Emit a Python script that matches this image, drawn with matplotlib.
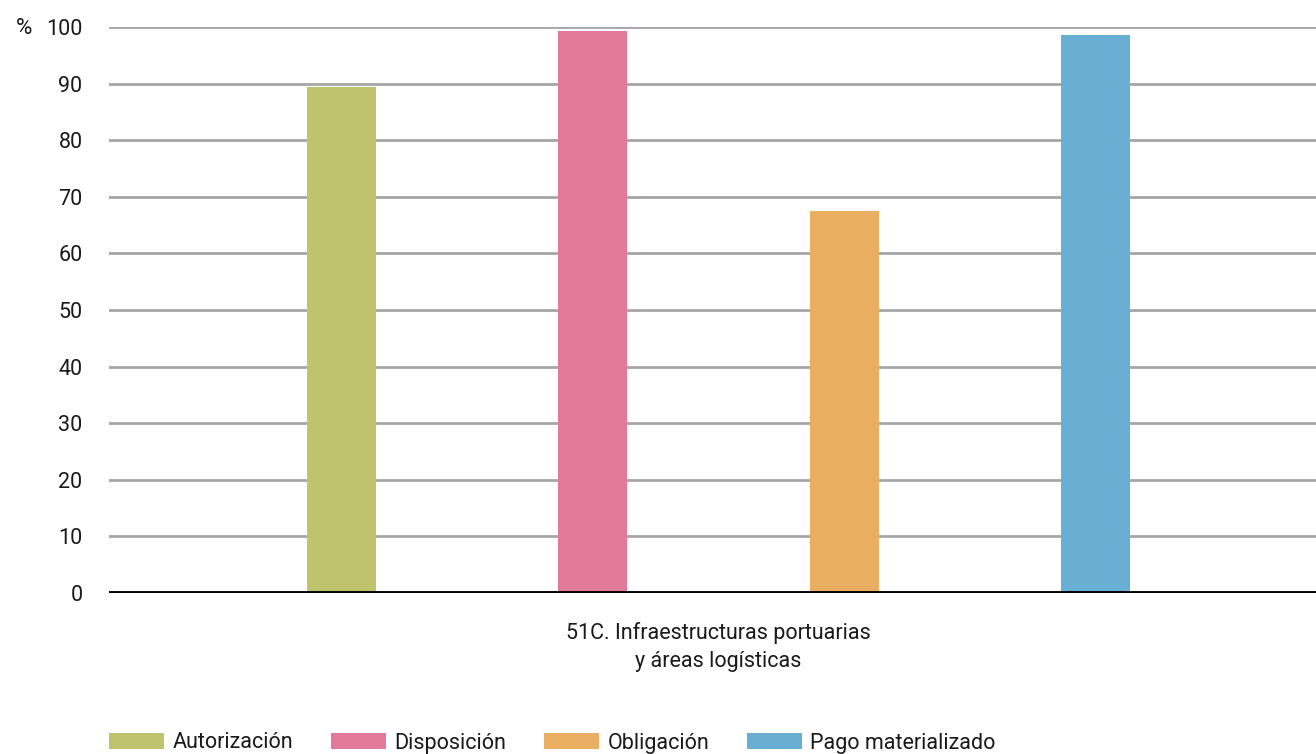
import matplotlib.pyplot as plt
import numpy as np

plt.rcParams['font.family'] = ['Roboto', 'DejaVu Sans']

# datos
series = ["Autorización", "Disposición", "Obligación", "Pago materializado"]
valores = [89.4, 99.3, 67.5, 98.6]
colores = ["#bfc36e", "#e2799a", "#e9ae62", "#69aed3"]
categoria = "51C. Infraestructuras portuarias\ny áreas logísticas"
yticks = [0, 10, 20, 30, 40, 50, 60, 70, 80, 90, 100]

fig = plt.figure(figsize=(13.16, 7.54), dpi=100)
ax = fig.add_axes([109 / 1316, 161 / 754, 1207 / 1316, 566 / 754])

ancho = 0.275
offsets = np.arange(len(series)) - (len(series) - 1) / 2
for off, val, col, nom in zip(offsets, valores, colores, series):
    ax.bar(off, val, width=ancho, color=col, label=nom, zorder=3)

ax.set_xlim(-2.425, 2.378)
ax.set_ylim(0, 100)
ax.set_yticks(yticks)
ax.yaxis.grid(True, color="#a6a6a6", linewidth=2, zorder=0)
ax.set_axisbelow(True)
ax.axhline(0, color="black", linewidth=2.8, zorder=4)

for s in ax.spines.values():
    s.set_visible(False)

ax.set_xticks([0])
ax.set_xticklabels([categoria], fontsize=15.5, linespacing=1.45, color="#1a1a1a")
ax.tick_params(axis="x", length=0, pad=21)
ax.tick_params(axis="y", length=0, pad=19, labelsize=15.5, labelcolor="#1a1a1a")

fig.text(24 / 1316, 1 - 29 / 754, "%", fontsize=16, ha="center", va="center", color="#1a1a1a")

fig.legend(loc="center left", bbox_to_anchor=(109 / 1316, 1 - 743 / 754), ncol=4,
           frameon=False, fontsize=15.5, handlelength=2.55, handleheight=0.7,
           handletextpad=0.4, columnspacing=1.75, borderaxespad=0, borderpad=0,
           labelcolor="#1a1a1a")

fig.savefig("out.png", dpi=100)
